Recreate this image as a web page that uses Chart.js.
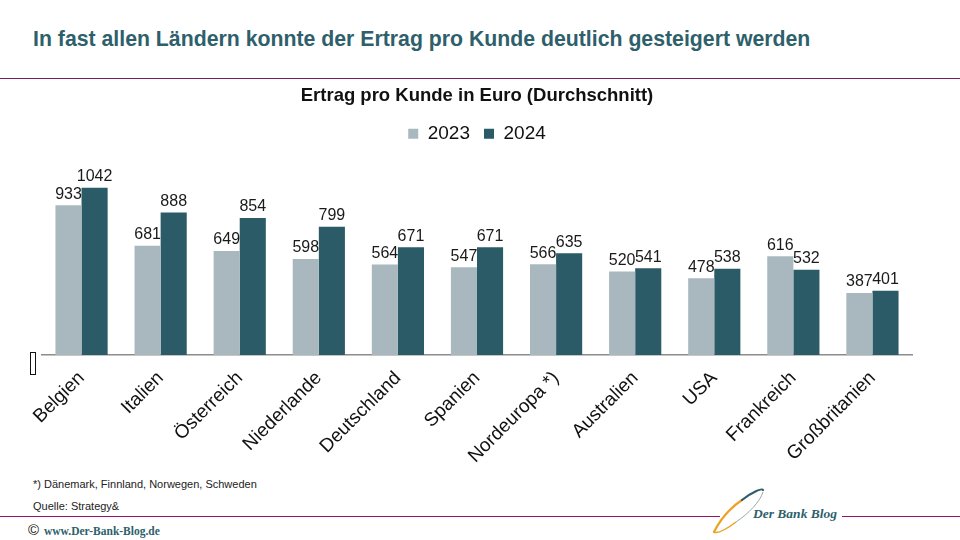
<!DOCTYPE html>
<html>
<head>
<meta charset="utf-8">
<script src="https://cdn.jsdelivr.net/npm/chart.js@4.4.1/dist/chart.umd.min.js"></script>
<style>
    body { margin: 0; background: #fff; }
    #page { position: relative; width: 960px; height: 540px; overflow: hidden; font-family: "Liberation Sans", Arial, sans-serif; }
    #headline { position: absolute; left: 33px; top: 26px; font-size: 22px; font-weight: bold; color: #2e5f6b; white-space: nowrap; transform-origin: 0 0; }
    #topline { position: absolute; left: 0; top: 78px; width: 960px; height: 1px; background: #7a1c5c; }
    #chartbox { position: absolute; left: 0; top: 80px; width: 960px; height: 390px; }
    .note { position: absolute; left: 33px; font-size: 11px; color: #222; white-space: nowrap; }
    .botline { position: absolute; top: 516px; height: 1px; background: #9b0f6e; }
    #copy { position: absolute; left: 28px; top: 521px; font-size: 15px; color: #111; }
    #url { position: absolute; left: 44px; top: 525px; font-family: "Liberation Serif", serif; font-weight: bold; font-size: 11.5px; color: #2e5f6b; white-space: nowrap; }
    #logo { position: absolute; left: 700px; top: 470px; }
</style>
</head>
<body>
<div id="page">
    <div id="headline">In fast allen Ländern konnte der Ertrag pro Kunde deutlich gesteigert werden</div>
    <div id="topline"></div>
    <div id="chartbox"><canvas id="chart"></canvas></div>
    <div class="note" style="top:478px">*) Dänemark, Finnland, Norwegen, Schweden</div>
    <div class="note" style="top:500px">Quelle: Strategy&amp;</div>
    <div class="botline" style="left:0; width:720px"></div>
    <div class="botline" style="left:842px; width:118px"></div>
    <div id="copy">©</div>
    <div id="url">www.Der-Bank-Blog.de</div>
    <svg id="logo" width="160" height="70" viewBox="0 0 160 70">
        <path d="M14 62 C 20 50, 30 38, 42 30" stroke="#f0a020" stroke-width="2.2" fill="none" stroke-linecap="round"/>
        <path d="M42 30 C 52 22, 62 18, 63 20" stroke="#2e5f6b" stroke-width="2.2" fill="none" stroke-linecap="round"/>
        <path d="M63 22 C 60 32, 48 44, 36 52" stroke="#9aaab0" stroke-width="1" fill="none"/>
        <path d="M36 52 C 28 58, 18 64, 14 62" stroke="#f0a020" stroke-width="1.5" fill="none"/>
        <text x="53" y="48" font-family="Liberation Serif, serif" font-style="italic" font-weight="bold" font-size="13.5" fill="#2e5f6b">Der Bank Blog</text>
    </svg>
</div>
<script>
    // Ertrag pro Kunde in Euro
    const laender = ['Belgien', 'Italien', 'Österreich', 'Niederlande', 'Deutschland', 'Spanien',
        'Nordeuropa *)', 'Australien', 'USA', 'Frankreich', 'Großbritanien'];
    const werte2023 = [933, 681, 649, 598, 564, 547, 566, 520, 478, 616, 387];
    const werte2024 = [1042, 888, 854, 799, 671, 671, 635, 541, 538, 532, 401];

    // fit headline to its width in the original
    const hl = document.getElementById('headline');
    hl.style.transform = 'scaleX(' + (777 / hl.scrollWidth) + ')';

    const wertLabels = {
        id: 'wertLabels',
        afterDatasetsDraw(chart) {
            const ctx = chart.ctx;
            ctx.save();
            ctx.font = '16px "Liberation Sans", Arial, sans-serif';
            ctx.fillStyle = '#1a1a1a';
            ctx.textAlign = 'center';
            ctx.textBaseline = 'bottom';
            chart.data.datasets.forEach(function (ds, i) {
                chart.getDatasetMeta(i).data.forEach(function (bar, j) {
                    ctx.fillText(ds.data[j], bar.x, bar.y - 3);
                });
            });
            // small empty box left of the axis
            ctx.strokeStyle = '#111';
            ctx.lineWidth = 1;
            ctx.strokeRect(30.5, chart.chartArea.bottom - 2.5, 5, 22);
            ctx.restore();
        }
    };

    new Chart(document.getElementById('chart'), {
        type: 'bar',
        data: {
            labels: laender,
            datasets: [
                {label: '2023', data: werte2023, backgroundColor: '#a9b8bf'},
                {label: '2024', data: werte2024, backgroundColor: '#2b5b67'}
            ]
        },
        plugins: [wertLabels],
        options: {
            responsive: true,
            maintainAspectRatio: false,
            animation: false,
            layout: {padding: {left: 42, right: 48, top: 0, bottom: 5}},
            datasets: {bar: {categoryPercentage: 0.66, barPercentage: 1.0}},
            plugins: {
                title: {
                    display: true,
                    text: 'Ertrag pro Kunde in Euro (Durchschnitt)',
                    color: '#111',
                    font: {family: "'Liberation Sans', Arial, sans-serif", size: 18.5, weight: 'bold'},
                    padding: {top: 5, bottom: 3}
                },
                legend: {
                    display: true,
                    labels: {
                        color: '#111',
                        boxWidth: 10,
                        boxHeight: 10,
                        padding: 14,
                        font: {family: "'Liberation Sans', Arial, sans-serif", size: 19}
                    }
                },
                tooltip: {enabled: false}
            },
            scales: {
                x: {
                    grid: {display: false},
                    border: {display: true, color: '#8c8c8c', width: 1.5},
                    ticks: {
                        color: '#111',
                        maxRotation: 45,
                        minRotation: 45,
                        autoSkip: false,
                        padding: 4,
                        font: {family: "'Liberation Sans', Arial, sans-serif", size: 19}
                    },
                    afterFit: function (scale) {
                        scale.height = 110;
                    }
                },
                y: {
                    display: false,
                    min: 0,
                    max: 1258
                }
            }
        }
    });
</script>
</body>
</html>
